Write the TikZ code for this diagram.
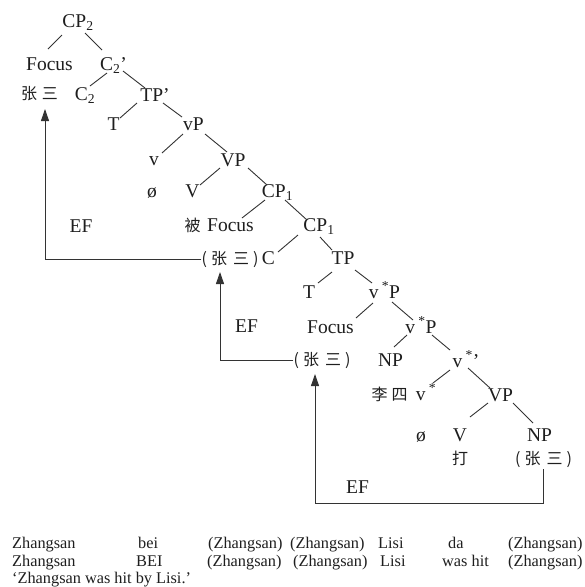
\documentclass[tikz,border=0pt]{standalone}
\usepackage{fontspec}
\setmainfont{Liberation Serif}
\newfontfamily\cjk{Noto Sans CJK SC}
\usetikzlibrary{arrows.meta}
\definecolor{ink}{HTML}{1E1E1E}
\definecolor{wire}{HTML}{333333}

% one tree branch: from a point below the mother node to a point above the daughter
\newcommand\treeedge[6]{\draw[branch] ([shift={(#2,#3)}]#1.base) -- ([shift={(#5,#6)}]#4.base);}

\begin{document}
\begin{tikzpicture}[x=1pt,y=-1pt,
  lbl/.style={anchor=base, inner sep=0pt, text=ink, font=\fontsize{19.5}{22}\selectfont},
  zh/.style={anchor=base, inner sep=0pt, text=ink, font=\cjk\fontsize{16}{18}\selectfont},
  gl/.style={anchor=base west, inner sep=0pt, text=ink, font=\fontsize{16.3}{18}\selectfont},
  branch/.style={draw=wire, line width=0.9pt},
  efmove/.style={draw=wire, line width=0.9pt, -{Triangle[width=8pt,length=12pt]}},
]
\useasboundingbox (0,0) rectangle (585,587);

% ---- tree labels ----
\node[lbl] (cp2)  at (78,27)    {CP\textsubscript{2}};
\node[lbl] (foc1) at (49.5,70)  {Focus};
\node[lbl] (c2p)  at (113.5,70) {C\textsubscript{2}’};
\node[zh]  (zs1)  at (39.5,99)  {张\hspace{5pt}三};
\node[lbl] (c2)   at (85,100)   {C\textsubscript{2}};
\node[lbl] (tpp)  at (155,101)  {TP’};
\node[lbl] (t1)   at (113.5,130){T};
\node[lbl] (vP)   at (193.5,130){vP};
\node[lbl] (v1)   at (154,165)  {v};
\node[lbl] (VP1)  at (233,166)  {VP};
\node[lbl] (o1)   at (152,197)  {ø};
\node[lbl] (V1)   at (192.5,197){V};
\node[lbl] (cp1a) at (277.5,197){CP\textsubscript{1}};
\node[zh]  (bei)  at (192.5,231){被};
\node[lbl] (foc2) at (230.5,231){Focus};
\node[lbl] (cp1b) at (319,231)  {CP\textsubscript{1}};
\node[zh]  (zs2)  at (230,264)  {(\hspace{4pt}张\hspace{6pt}三\hspace{4pt})};
\node[lbl] (cC)   at (268.5,264){C};
\node[lbl] (tp)   at (343,264)  {TP};
\node[lbl] (t2)   at (309,298)  {T};
\node[lbl] (vsP1) at (384.5,298){v\,\textsuperscript{*}P};
\node[lbl] (foc3) at (330.5,333){Focus};
\node[lbl] (vsP2) at (421,333)  {v\,\textsuperscript{*}P};
\node[zh]  (zs3)  at (322,365)  {(\hspace{4pt}张\hspace{6pt}三\hspace{4pt})};
\node[lbl] (np1)  at (390.5,366){NP};
\node[lbl] (vsp)  at (466,367)  {v\,\textsuperscript{*}’};
\node[zh]  (ls)   at (389.5,400){李\hspace{4pt}四};
\node[lbl] (vs)   at (426,400)  {v\,\textsuperscript{*}};
\node[lbl] (VP2)  at (500.5,401){VP};
\node[lbl] (o2)   at (421,441)  {ø};
\node[lbl] (V2)   at (460,441)  {V};
\node[lbl] (np2)  at (539.5,441){NP};
\node[zh]  (da)   at (460,464)  {打};
\node[zh]  (zs4)  at (543.5,464){(\hspace{4pt}张\hspace{6pt}三\hspace{4pt})};

% ---- feature labels ----
\node[lbl] (ef1) at (81,232)    {EF};
\node[lbl] (ef2) at (246.5,332) {EF};
\node[lbl] (ef3) at (357.5,493) {EF};

% ---- branches ----
\treeedge{cp2}{-16}{8}{foc1}{-1.5}{-21}
\treeedge{cp2}{7}{6}{c2p}{-11.5}{-20}
\treeedge{c2p}{-6.5}{3}{c2}{5}{-14}
\treeedge{c2p}{9.5}{1}{tpp}{-10}{-13}
\treeedge{tpp}{-18}{2}{t1}{6.5}{-12}
\treeedge{tpp}{8}{2}{vP}{-11.5}{-13}
\treeedge{vP}{-10.5}{4}{v1}{8}{-12}
\treeedge{vP}{11.5}{4}{VP1}{-6}{-14}
\treeedge{VP1}{-13}{2}{V1}{7.5}{-12}
\treeedge{VP1}{15}{2}{cp1a}{-10.5}{-12}
\treeedge{cp1a}{-12.5}{3}{foc2}{11.5}{-13}
\treeedge{cp1a}{7.5}{3}{cp1b}{-12}{-11}
\treeedge{cp1b}{-21}{4}{cC}{9.5}{-12}
\treeedge{cp1b}{1}{6}{tp}{-11}{-14}
\treeedge{tp}{-11}{8}{t2}{9}{-15}
\treeedge{tp}{12}{6}{vsP1}{-12.5}{-15}
\treeedge{vsP1}{-11.5}{5}{foc3}{25.5}{-15}
\treeedge{vsP1}{7.5}{4}{vsP2}{-8}{-13}
\treeedge{vsP2}{-14}{2}{np1}{3.5}{-19}
\treeedge{vsP2}{11}{2}{vsp}{-16}{-17}
\treeedge{vsp}{-16}{3}{vs}{7}{-17}
\treeedge{vsp}{2}{1}{VP2}{-10.5}{-13}
\treeedge{VP2}{-12.5}{2}{V2}{10}{-24}
\treeedge{VP2}{12.5}{2}{np2}{-6.5}{-18}

% ---- movement paths ----
\draw[efmove] (zs2.west) -| ([shift={(5.5,10)}]zs1.base);
\draw[efmove] (zs3.west) -| ([shift={(-10,8)}]zs2.base);
\draw[efmove] ([yshift=-2pt]zs4.south) -- ++(0,34) -| ([shift={(-7,9)}]zs3.base);

% ---- gloss lines ----
\node[gl] (a1) at (12,548)  {Zhangsan};
\node[gl] (a2) at (138,548) {bei};
\node[gl] (a3) at (208,548) {(Zhangsan)};
\node[gl] (a4) at (290,548) {(Zhangsan)};
\node[gl] (a5) at (378,548) {Lisi};
\node[gl] (a6) at (448,548) {da};
\node[gl] (a7) at (508,548) {(Zhangsan)};
\node[gl] (b1) at (12,566)  {Zhangsan};
\node[gl] (b2) at (136,566) {BEI};
\node[gl] (b3) at (207,566) {(Zhangsan)};
\node[gl] (b4) at (293,566) {(Zhangsan)};
\node[gl] (b5) at (380,566) {Lisi};
\node[gl] (b6) at (442,566) {was hit};
\node[gl] (b7) at (508,566) {(Zhangsan)};
\node[gl] (c1) at (12,583)  {‘Zhangsan was hit by Lisi.’};
\end{tikzpicture}
\end{document}
